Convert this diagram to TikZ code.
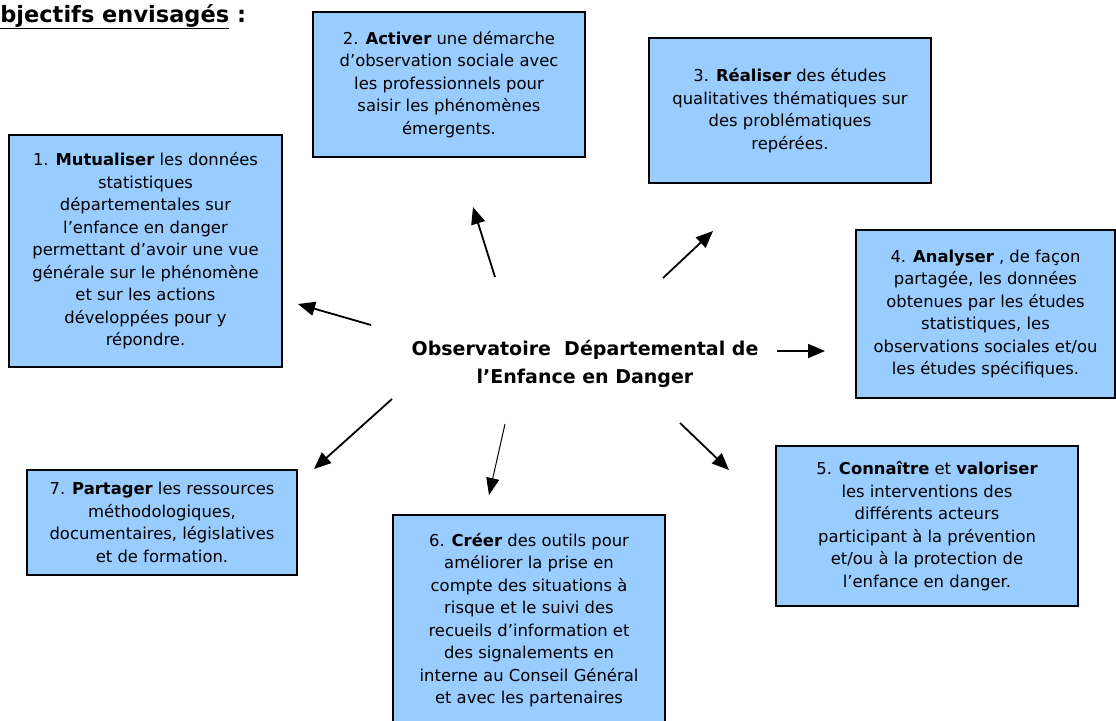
\documentclass[tikz,border=0pt]{standalone}
\usepackage{fontspec}
\setmainfont{DejaVu Sans}
\usetikzlibrary{arrows.meta,shadows}
\definecolor{boxblue}{HTML}{99CCFF}

\begin{document}
\begin{tikzpicture}[x=1pt, y=-1pt,
    box/.style={draw=black, line width=1.2pt, fill=boxblue, align=center,
      inner sep=0pt, font=\fontsize{16.4}{22.5}\selectfont,
      drop shadow={shadow xshift=1.2pt, shadow yshift=-1.2pt, fill=black, opacity=1}},
    arr/.style={line width=1.8pt, -{Triangle[length=17pt, width=14pt]}},
    thinarr/.style={line width=1pt, -{Triangle[length=17pt, width=13pt]}}]
\useasboundingbox (0,0) rectangle (1116,720);

% title
\node[anchor=base west, inner sep=0pt, font=\fontsize{22.5}{26}\selectfont\bfseries] (titre) at (-19,22) {\underline{Objectifs envisagés} :};

% centre
\node[align=center, font=\fontsize{19}{28}\selectfont\bfseries] (ctr) at (585,364)
  {Observatoire\ \ Départemental de\\l’Enfance en Danger};

% objectifs
\node[box, minimum width=273pt, minimum height=232pt] (b1) at (145.5,251)
  {1. \textbf{Mutualiser} les données\\statistiques\\départementales sur\\l’enfance en danger\\permettant d’avoir une vue\\générale sur le phénomène\\et sur les actions\\développées pour y\\répondre.};
\node[box, minimum width=272pt, minimum height=145pt] (b2) at (449,84.5)
  {2. \textbf{Activer} une démarche\\d’observation sociale avec\\les professionnels pour\\saisir les phénomènes\\émergents.};
\node[box, minimum width=282pt, minimum height=145pt] (b3) at (790,110.5)
  {3. \textbf{Réaliser} des études\\qualitatives thématiques sur\\des problématiques\\repérées.};
\node[box, minimum width=259pt, minimum height=168pt] (b4) at (985.5,314)
  {4. \textbf{Analyser} , de façon\\partagée, les données\\obtenues par les études\\statistiques, les\\observations sociales et/ou\\les études spécifiques.};
\node[box, minimum width=302pt, minimum height=160pt] (b5) at (927,526)
  {5. \textbf{Connaître} et \textbf{valoriser}\\les interventions des\\différents acteurs\\participant à la prévention\\et/ou à la protection de\\l’enfance en danger.};
\node[box, minimum width=272pt, minimum height=210pt] (b6) at (529,620)
  {6. \textbf{Créer} des outils pour\\améliorer la prise en\\compte des situations à\\risque et le suivi des\\recueils d'information et\\des signalements en\\interne au Conseil Général\\et avec les partenaires};
\node[box, minimum width=270pt, minimum height=105pt] (b7) at (162,522.5)
  {7. \textbf{Partager} les ressources\\méthodologiques,\\documentaires, législatives\\et de formation.};

% fleches
\coordinate (t1) at (371,325); \coordinate (h1) at (298,304);
\coordinate (t2) at (495,277); \coordinate (h2) at (473,207);
\coordinate (t3) at (663,278); \coordinate (h3) at (713,231);
\coordinate (t4) at (777,351); \coordinate (h4) at (825,351);
\coordinate (t5) at (680,423); \coordinate (h5) at (729,470);
\coordinate (t6) at (505,424); \coordinate (h6) at (489,495);
\coordinate (t7) at (392,399); \coordinate (h7) at (314,469);
\foreach \i in {1,2,3,4,5,7}
  \draw[arr] (t\i) -- (h\i);
\draw[thinarr] (t6) -- (h6);
\end{tikzpicture}
\end{document}
